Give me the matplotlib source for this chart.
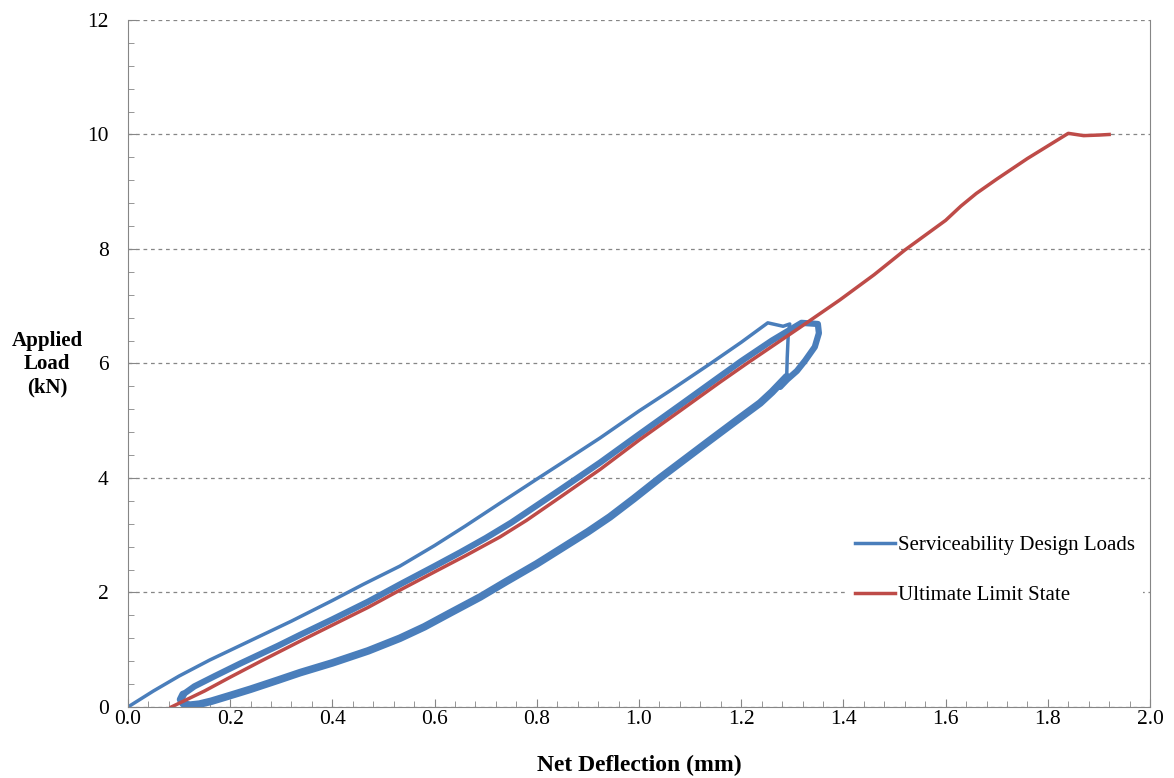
import numpy as np
import matplotlib.pyplot as plt
from matplotlib.lines import Line2D

plt.rcParams['font.family'] = 'Liberation Serif'

# Serviceability cycles: first loading (thin), reloading and unloading bands
load1_x = [0.0, 0.05, 0.10, 0.16, 0.24, 0.32, 0.40, 0.46, 0.532, 0.60, 0.66, 0.728,
           0.80, 0.845, 0.924, 1.0, 1.06, 1.14, 1.20, 1.252, 1.282, 1.295,
           1.292, 1.290, 1.289]
load1_y = [0.0, 0.28, 0.54, 0.82, 1.16, 1.50, 1.86, 2.14, 2.46, 2.82, 3.16, 3.56,
           3.98, 4.24, 4.70, 5.17, 5.52, 6.0, 6.37, 6.71, 6.65, 6.69,
           6.50, 6.10, 5.77]

unload_x = [1.289, 1.26, 1.237, 1.19, 1.139, 1.09, 1.041, 0.99, 0.943, 0.90, 0.85,
            0.80, 0.74, 0.689, 0.63, 0.58, 0.532, 0.47, 0.40, 0.337, 0.294, 0.24,
            0.20, 0.163, 0.14, 0.12, 0.108, 0.103, 0.108]
unload_y = [5.77, 5.50, 5.31, 5.00, 4.66, 4.33, 4.00, 3.64, 3.32, 3.06, 2.78,
            2.50, 2.19, 1.92, 1.64, 1.40, 1.20, 0.98, 0.77, 0.60, 0.47, 0.31,
            0.20, 0.10, 0.05, 0.03, 0.06, 0.13, 0.22]

reload_x = [0.108, 0.13, 0.17, 0.22, 0.294, 0.337, 0.40, 0.47, 0.532, 0.60, 0.65,
            0.70, 0.75, 0.80, 0.845, 0.924, 1.0, 1.08, 1.15, 1.20, 1.26, 1.318,
            1.35, 1.352, 1.344, 1.325, 1.309, 1.29, 1.276]
reload_y = [0.22, 0.36, 0.54, 0.76, 1.07, 1.26, 1.53, 1.84, 2.14, 2.46, 2.70,
            2.95, 3.22, 3.52, 3.79, 4.27, 4.76, 5.27, 5.72, 6.04, 6.40, 6.71,
            6.69, 6.53, 6.29, 6.05, 5.87, 5.72, 5.59]

# Ultimate limit state loading
uls_x = [0.085, 0.15, 0.20, 0.26, 0.337, 0.40, 0.47, 0.532, 0.60, 0.66, 0.728,
         0.78, 0.845, 0.924, 1.0, 1.08, 1.158, 1.211, 1.315, 1.393, 1.46, 1.52,
         1.56, 1.60, 1.63, 1.66, 1.70, 1.76, 1.80, 1.84, 1.87, 1.90, 1.92]
uls_y = [0.0, 0.28, 0.52, 0.80, 1.15, 1.43, 1.74, 2.04, 2.36, 2.64, 2.97,
         3.26, 3.66, 4.15, 4.66, 5.17, 5.67, 6.0, 6.63, 7.11, 7.55, 7.98,
         8.24, 8.50, 8.75, 8.97, 9.22, 9.58, 9.80, 10.02, 9.98, 9.99, 10.0]

blue = '#4A7EBB'
red = '#BE4B48'
grey = '#868686'

fig = plt.figure(figsize=(11.74, 7.78), dpi=100)
ax = fig.add_axes([0.109, 0.0913, 0.8706, 0.883])

ax.plot(unload_x, unload_y, color=blue, lw=5.5, solid_capstyle='round', solid_joinstyle='round')
ax.plot(reload_x, reload_y, color=blue, lw=4.5, solid_capstyle='round', solid_joinstyle='round')
ax.plot(load1_x, load1_y, color=blue, lw=2.5, solid_joinstyle='round')
ax.plot(uls_x, uls_y, color=red, lw=2.5, solid_joinstyle='round')

ax.set_xlim(0, 2.0)
ax.set_ylim(0, 12)
ax.set_xticks(np.arange(0, 2.01, 0.2))
ax.set_xticklabels(['%.1f' % v for v in np.arange(0, 2.01, 0.2)])
ax.set_yticks(range(0, 13, 2))
ax.set_xticks(np.arange(0, 2.01, 0.04), minor=True)
ax.set_yticks(np.arange(0, 12.01, 0.4), minor=True)
ax.tick_params(axis='both', which='both', direction='in', color=grey, labelsize=15.5)
ax.tick_params(which='major', length=6)
ax.tick_params(which='minor', length=4)
ax.tick_params(axis='x', pad=2)
ax.tick_params(axis='y', pad=14)

ax.grid(axis='y', which='major', color=grey, ls=(0, (3, 3)), lw=0.9)
for s in ['left', 'bottom', 'right']:
    ax.spines[s].set_color(grey)
ax.spines['top'].set_visible(False)

ax.set_xlabel('Net Deflection (mm)', fontsize=17, fontweight='bold', labelpad=19)
fig.text(0.040, 0.532, 'Applied\nLoad\n(kN)', fontsize=15, fontweight='bold',
         ha='center', va='center', linespacing=1.2)

handles = [Line2D([], [], color=blue, lw=2.5), Line2D([], [], color=red, lw=2.5)]
leg = ax.legend(handles, ['Serviceability Design Loads', 'Ultimate Limit State'],
                loc='center left', bbox_to_anchor=(0.693, 0.199), frameon=True,
                facecolor='white', edgecolor='none', framealpha=1, fancybox=False,
                fontsize=15, handlelength=1.9, handletextpad=0.15, labelspacing=1.45)

fig.savefig('out.png', dpi=100)
